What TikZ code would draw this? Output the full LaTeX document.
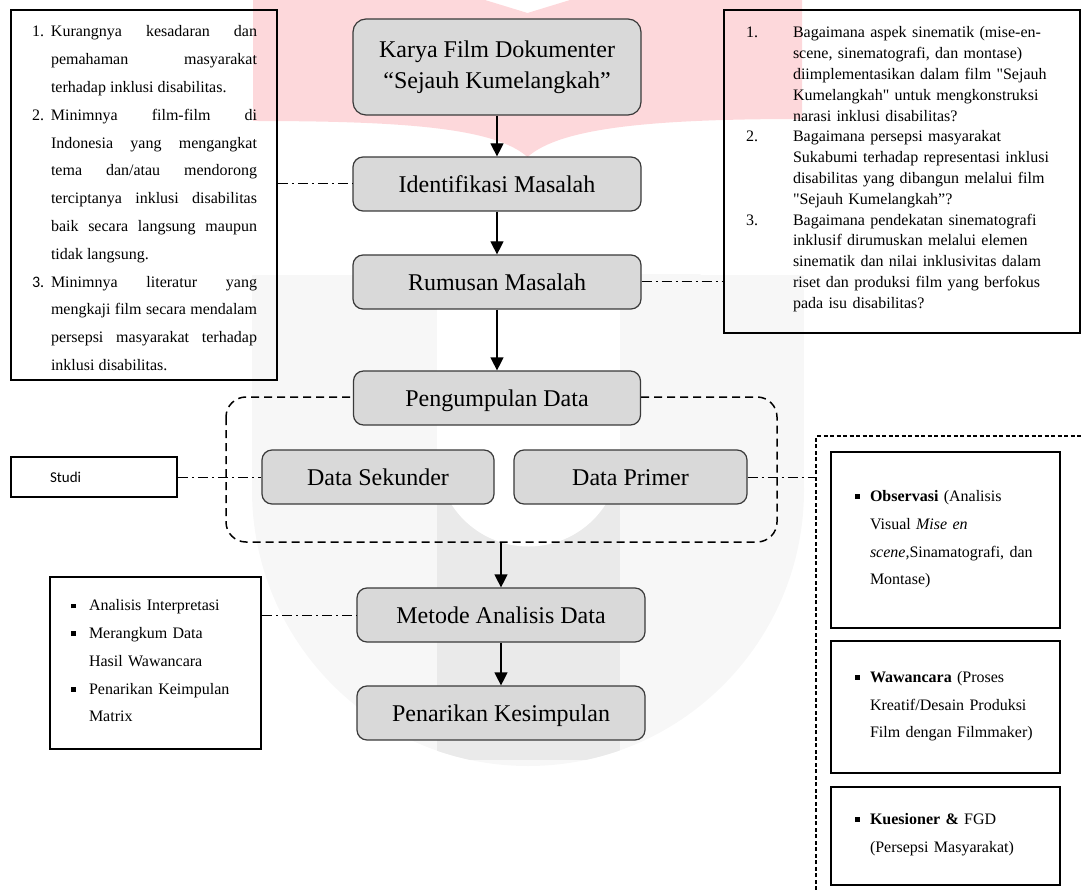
\documentclass[tikz,border=0pt]{standalone}
\usepackage{fontspec}
\setmainfont{Liberation Serif}[Ligatures=TeXOff]
\newfontfamily\calibrifont{Carlito}
\usetikzlibrary{arrows.meta}

\definecolor{stagefill}{HTML}{D9D9D9}
\definecolor{stageline}{HTML}{3A3A3A}
\definecolor{logopink}{HTML}{FDD8DB}
\definecolor{logogray}{HTML}{F7F7F7}
\definecolor{logodark}{HTML}{EAEAEA}

\newcommand{\sqbul}{\raisebox{2.4pt}{\rule{4.8pt}{4.8pt}}}
\newcommand{\numitem}[2]{\par\noindent\llap{\makebox[#1][l]{#2}}}

\tikzset{
  stagebase/.style={draw=stageline, fill=stagefill, line width=1.2pt, rounded corners=10pt,
    minimum width=288pt, minimum height=54pt, inner sep=0pt, font=\fontsize{24}{31}\selectfont},
  stage/.style={stagebase, text height=21.4pt, text depth=5.2pt},
  framebox/.style={draw=black, line width=2pt, inner sep=0pt},
  bodytext/.style={inner sep=0pt, font=\fontsize{16}{27.8}\selectfont},
  flow/.style={-{Triangle[width=13pt,length=13pt]}, line width=1.2pt},
  linkline/.style={line width=1pt, dash pattern=on 10pt off 4pt on 2pt off 4pt},
  groupline/.style={line width=1.5pt, dash pattern=on 8pt off 5pt, rounded corners=20pt},
  methodline/.style={line width=1.5pt, dash pattern=on 4pt off 2.5pt}
}

\begin{document}
\begin{tikzpicture}[x=1pt,y=-1pt]
\useasboundingbox (0,0) rectangle (1081,890);

\fill[logopink] (253,0) -- (485,0) -- (527.5,13) -- (570,0) -- (802,0) -- (802,119)
  .. controls (650,119) and (560,128) .. (527.5,157)
  .. controls (495,128) and (405,121) .. (253,121) -- cycle;
\begin{scope}
\clip (0,275) rectangle (1081,890);
\fill[logogray] (252,275) rectangle (804,490);
\fill[logogray] (528,490) circle[radius=276];
\clip (528,490) circle[radius=276];
\fill[logodark] (437,455) rectangle (620,760);
\end{scope}
\fill[white] (437,275) rectangle (620,455);
\fill[white] (528.5,455) circle[radius=91.5];

\draw[groupline] (226,397) rectangle (777,542);

\node[stagebase, minimum height=96pt, rounded corners=13pt, align=center] (karya) at (497,67) {Karya Film Dokumenter\\“Sejauh Kumelangkah”};
\node[stage] (identifikasi) at (497,184) {Identifikasi Masalah};
\node[stage] (rumusan) at (497,282) {Rumusan Masalah};
\node[stage, minimum width=287pt] (pengumpulan) at (497,398) {Pengumpulan Data};
\node[stage, minimum width=232pt] (sekunder) at (378,477) {Data Sekunder};
\node[stage, minimum width=233pt] (primer) at (630.5,477) {Data Primer};
\node[stage] (metode) at (501,615) {Metode Analisis Data};
\node[stage] (penarikan) at (501,713) {Penarikan Kesimpulan};

\node[framebox, minimum width=266pt, minimum height=370pt] (masalah) at (144,195) {};
\node[bodytext, align=justify, text width=206pt] (masalahtext) at (154,190) {%
\tolerance=10000\hyphenpenalty=10000
\numitem{19pt}{1.}Kurangnya kesadaran dan\linebreak pemahaman masyarakat\linebreak terhadap inklusi disabilitas.
\numitem{19pt}{2.}Minimnya film-film di\linebreak Indonesia yang mengangkat\linebreak tema dan/atau mendorong\linebreak terciptanya inklusi disabilitas\linebreak baik secara langsung maupun\linebreak tidak langsung.
\numitem{19pt}{\calibrifont 3.}Minimnya literatur yang\linebreak mengkaji film secara mendalam\linebreak persepsi masyarakat terhadap\linebreak inklusi disabilitas.\par};

\node[framebox, minimum width=356pt, minimum height=323pt] (pertanyaan) at (902,171.5) {};
\node[bodytext, align=left, text width=265pt, font=\fontsize{16}{20.8}\selectfont] (pertanyaantext) at (925.5,164.5) {%
\numitem{47pt}{1.}Bagaimana aspek sinematik (mise-en-\\ scene, sinematografi, dan montase)\\ diimplementasikan dalam film "Sejauh\\ Kumelangkah" untuk mengkonstruksi\\ narasi inklusi disabilitas?
\numitem{47pt}{2.}Bagaimana persepsi masyarakat\\ Sukabumi terhadap representasi inklusi\\ disabilitas yang dibangun melalui film\\ "Sejauh Kumelangkah”?
\numitem{47pt}{3.}Bagaimana pendekatan sinematografi\\ inklusif dirumuskan melalui elemen\\ sinematik dan nilai inklusivitas dalam\\ riset dan produksi film yang berfokus\\ pada isu disabilitas?\par};

\node[framebox, line width=1.6pt, align=left, text width=88pt, inner xsep=39pt, minimum height=40pt, font=\calibrifont\fontsize{15}{18}\selectfont] (studi) at (94,477) {Studi};

\node[framebox, minimum width=211pt, minimum height=172pt] (analisis) at (155.5,663) {};
\node[bodytext, align=left, text width=151pt] (analisistext) at (164.5,652.5) {%
\numitem{18pt}{\sqbul}Analisis Interpretasi
\numitem{18pt}{\sqbul}Merangkum Data\\ Hasil Wawancara
\numitem{18pt}{\sqbul}Penarikan Keimpulan\\ Matrix\par};

\coordinate (regiontop) at (816,436);
\draw[methodline] (816,890) -- (regiontop) -- (1081,436);

\node[framebox, line width=1.8pt, minimum width=229pt, minimum height=176pt] (observasi) at (945.5,540) {};
\node[bodytext, align=left, text width=166pt] (observasitext) at (953,531) {%
\numitem{15pt}{\sqbul}\textbf{Observasi} (Analisis\\ Visual \textit{Mise en}\\ \textit{scene,}Sinamatografi, dan\\ Montase)\par};
\node[framebox, line width=1.8pt, minimum width=229pt, minimum height=132pt] (wawancara) at (945.5,707) {};
\node[bodytext, align=left, text width=166pt] (wawancaratext) at (953,698) {%
\numitem{15pt}{\sqbul}\textbf{Wawancara} (Proses\\ Kreatif/Desain Produksi\\ Film dengan Filmmaker)\par};
\node[framebox, line width=1.8pt, minimum width=229pt, minimum height=98pt] (kuesioner) at (945.5,836) {};
\node[bodytext, align=left, text width=166pt] (kuesionertext) at (953,826) {%
\numitem{15pt}{\sqbul}\textbf{Kuesioner \&} FGD\\ (Persepsi Masyarakat)\par};

\draw[flow] (karya) -- (identifikasi);
\draw[flow] (identifikasi) -- (rumusan);
\draw[flow] (rumusan) -- (pengumpulan);
\coordinate (groupbottom) at (501,542);
\draw[flow] (groupbottom) -- (metode);
\draw[flow] (metode) -- (penarikan);

\draw[linkline] (masalah.east |- identifikasi.west) -- (identifikasi.west);
\draw[linkline] (rumusan.east) -- (rumusan.east -| pertanyaan.west);
\draw[linkline] (studi.east) -- (sekunder.west);
\draw[linkline] (primer.east) -- (primer.east -| regiontop);
\draw[linkline] (analisis.east |- metode.west) -- (metode.west);
\end{tikzpicture}
\end{document}
